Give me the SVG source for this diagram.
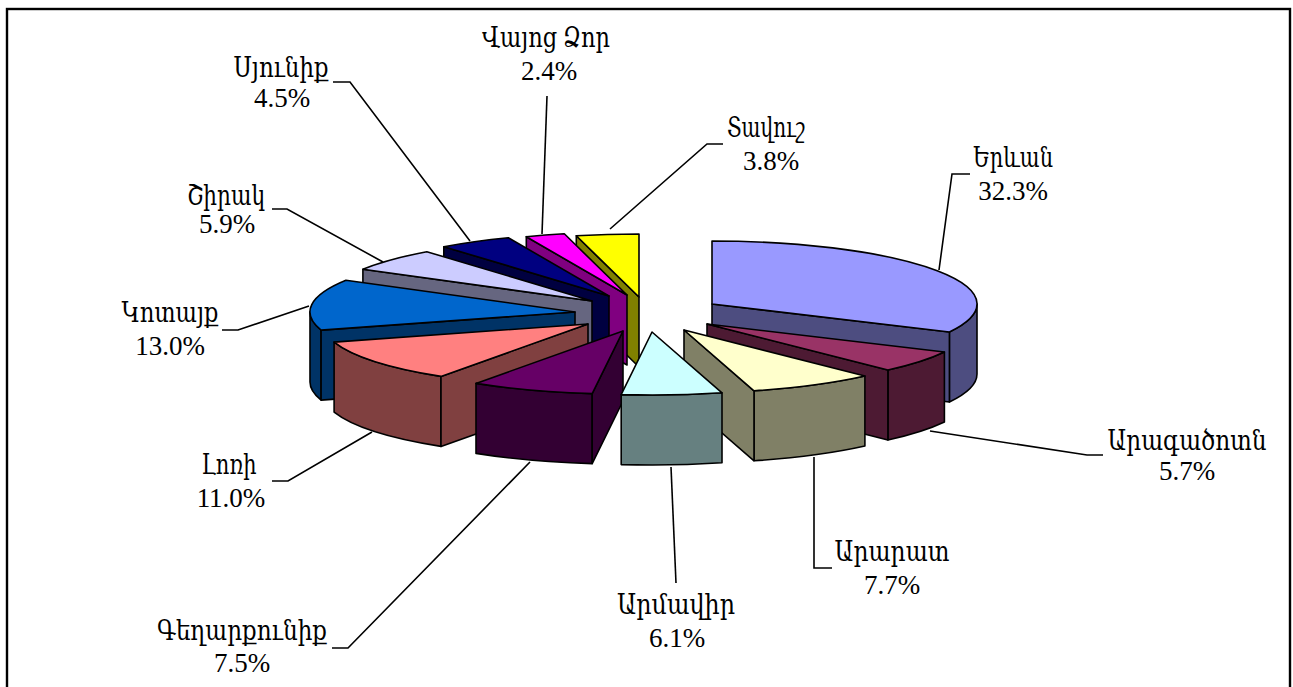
<svg xmlns="http://www.w3.org/2000/svg" width="1293" height="687" viewBox="0 0 1293 687">
<style>
.f{stroke:#000;stroke-width:1.6;stroke-linejoin:round}
.t{font-family:"Liberation Serif","DejaVu Serif","DejaVu Sans",serif;font-size:27px;fill:#000;text-anchor:middle}
.ld{fill:none;stroke:#000;stroke-width:1.6}
</style>
<rect width="1293" height="687" fill="#fff"/>
<rect x="7" y="9" width="1283" height="700" fill="none" stroke="#000" stroke-width="2.4"/>

<g id="tavush">
<path class="f" fill="#808000" d="M639,297 L576.3,235.8 L576.3,305.8 L639,367 Z"/>
<path class="f" fill="#FFFF00" d="M639,297 L576.3,235.8 A265,63 0 0 1 639,234 Z"/>
<text class="t" x="766" y="137" textLength="78" lengthAdjust="spacingAndGlyphs">Տավուշ</text>
<text class="t" x="771" y="170">3.8%</text>
</g>
<g id="vayots-dzor">
<path class="f" fill="#800080" d="M627,295 L526.3,236.7 L526.3,306.7 L627,365 Z"/>
<path class="f" fill="#FF00FF" d="M627,295 L526.3,236.7 A265,63 0 0 1 564.3,233.8 Z"/>
<text class="t" x="546" y="47" textLength="128" lengthAdjust="spacingAndGlyphs">Վայոց Ձոր</text>
<text class="t" x="549" y="80">2.4%</text>
</g>
<g id="syunik">
<path class="f" fill="#000040" d="M609,296 L443.8,246.7 L443.8,316.7 L609,366 Z"/>
<path class="f" fill="#000080" d="M609,296 L443.8,246.7 A265,63 0 0 1 508.3,237.7 Z"/>
<text class="t" x="281" y="77" textLength="95" lengthAdjust="spacingAndGlyphs">Սյունիք</text>
<text class="t" x="282" y="107">4.5%</text>
</g>
<g id="shirak">
<path class="f" fill="#666680" d="M592,301 L362.9,269.3 L362.9,339.3 L592,371 Z"/>
<path class="f" fill="#CCCCFF" d="M592,301 L362.9,269.3 A265,63 0 0 1 426.8,251.7 Z"/>
<text class="t" x="226" y="205" textLength="78" lengthAdjust="spacingAndGlyphs">Շիրակ</text>
<text class="t" x="227" y="233">5.9%</text>
</g>
<g id="kotayk">
<path class="f" fill="#003366" d="M321.1,330.1 A265,63 0 0 1 310,312 L310,382 A265,63 0 0 0 321.1,400.1 Z"/>
<path class="f" fill="#003366" d="M575,312 L321.1,330.1 L321.1,400.1 L575,382 Z"/>
<path class="f" fill="#0066CC" d="M575,312 L321.1,330.1 A265,63 0 0 1 345.9,280.3 Z"/>
<text class="t" x="170" y="322" textLength="97" lengthAdjust="spacingAndGlyphs">Կոտայք</text>
<text class="t" x="170" y="355">13.0%</text>
</g>
<g id="lori">
<path class="f" fill="#804040" d="M441,376.4 A265,63 0 0 1 334.1,342.1 L334.1,412.1 A265,63 0 0 0 441,446.4 Z"/>
<path class="f" fill="#804040" d="M588,324 L441,376.4 L441,446.4 L588,394 Z"/>
<path class="f" fill="#FF8080" d="M588,324 L441,376.4 A265,63 0 0 1 334.1,342.1 Z"/>
<text class="t" x="229" y="474" textLength="55" lengthAdjust="spacingAndGlyphs">Լոռի</text>
<text class="t" x="231" y="507">11.0%</text>
</g>
<g id="gegharkunik">
<path class="f" fill="#330033" d="M592.2,393.6 A265,63 0 0 1 476,383.4 L476,453.4 A265,63 0 0 0 592.2,463.6 Z"/>
<path class="f" fill="#330033" d="M623,331 L592.2,393.6 L592.2,463.6 L623,401 Z"/>
<path class="f" fill="#660066" d="M623,331 L592.2,393.6 A265,63 0 0 1 476,383.4 Z"/>
<text class="t" x="242" y="640" textLength="170" lengthAdjust="spacingAndGlyphs">Գեղարքունիք</text>
<text class="t" x="242" y="672">7.5%</text>
</g>
<g id="yerevan">
<path class="f" fill="#4D4D80" d="M977,304 A265,63 0 0 1 949.4,332 L949.4,402 A265,63 0 0 0 977,374 Z"/>
<path class="f" fill="#4D4D80" d="M712,304 L949.4,332 L949.4,402 L712,374 Z"/>
<path class="f" fill="#9999FF" d="M712,304 L712,241 A265,63 0 0 1 949.4,332 Z"/>
<text class="t" x="1013" y="167" textLength="80" lengthAdjust="spacingAndGlyphs">Երևան</text>
<text class="t" x="1013" y="200">32.3%</text>
</g>
<g id="aragatsotn">
<path class="f" fill="#4D1A33" d="M944.4,352 A265,63 0 0 1 887.9,370 L887.9,440 A265,63 0 0 0 944.4,422 Z"/>
<path class="f" fill="#4D1A33" d="M707,324 L887.9,370 L887.9,440 L707,394 Z"/>
<path class="f" fill="#993366" d="M707,324 L944.4,352 A265,63 0 0 1 887.9,370 Z"/>
<text class="t" x="1187" y="450" textLength="159" lengthAdjust="spacingAndGlyphs">Արագածոտն</text>
<text class="t" x="1187" y="480">5.7%</text>
</g>
<g id="ararat">
<path class="f" fill="#808066" d="M864.9,376 A265,63 0 0 1 754,390.8 L754,460.8 A265,63 0 0 0 864.9,446 Z"/>
<path class="f" fill="#808066" d="M684,330 L754,390.8 L754,460.8 L684,400 Z"/>
<path class="f" fill="#FFFFCC" d="M684,330 L864.9,376 A265,63 0 0 1 754,390.8 Z"/>
<text class="t" x="892" y="561" textLength="115" lengthAdjust="spacingAndGlyphs">Արարատ</text>
<text class="t" x="892" y="594">7.7%</text>
</g>
<g id="armavir">
<path class="f" fill="#668080" d="M722,392.8 A265,63 0 0 1 621.2,394.6 L621.2,464.6 A265,63 0 0 0 722,462.8 Z"/>
<path class="f" fill="#CCFFFF" d="M652,332 L722,392.8 A265,63 0 0 1 621.2,394.6 Z"/>
<text class="t" x="676" y="614" textLength="118" lengthAdjust="spacingAndGlyphs">Արմավիր</text>
<text class="t" x="677" y="647">6.1%</text>
</g>

<g id="connectors">
<polyline class="ld" points="970,174 952,174 939,270"/>
<polyline class="ld" points="1103,455 1087,455 930,431"/>
<polyline class="ld" points="832,568 814,568 814,457"/>
<polyline class="ld" points="676,583 671,467"/>
<polyline class="ld" points="332,648 348,648 530,462"/>
<polyline class="ld" points="272,481 288,481 372,432"/>
<polyline class="ld" points="222,330 238,330 309,306"/>
<polyline class="ld" points="272,209 287,209 383,262"/>
<polyline class="ld" points="333,82 350,82 470,241"/>
<polyline class="ld" points="547,96 542,234"/>
<polyline class="ld" points="723,144 707,144 610,229"/>
</g>
</svg>
